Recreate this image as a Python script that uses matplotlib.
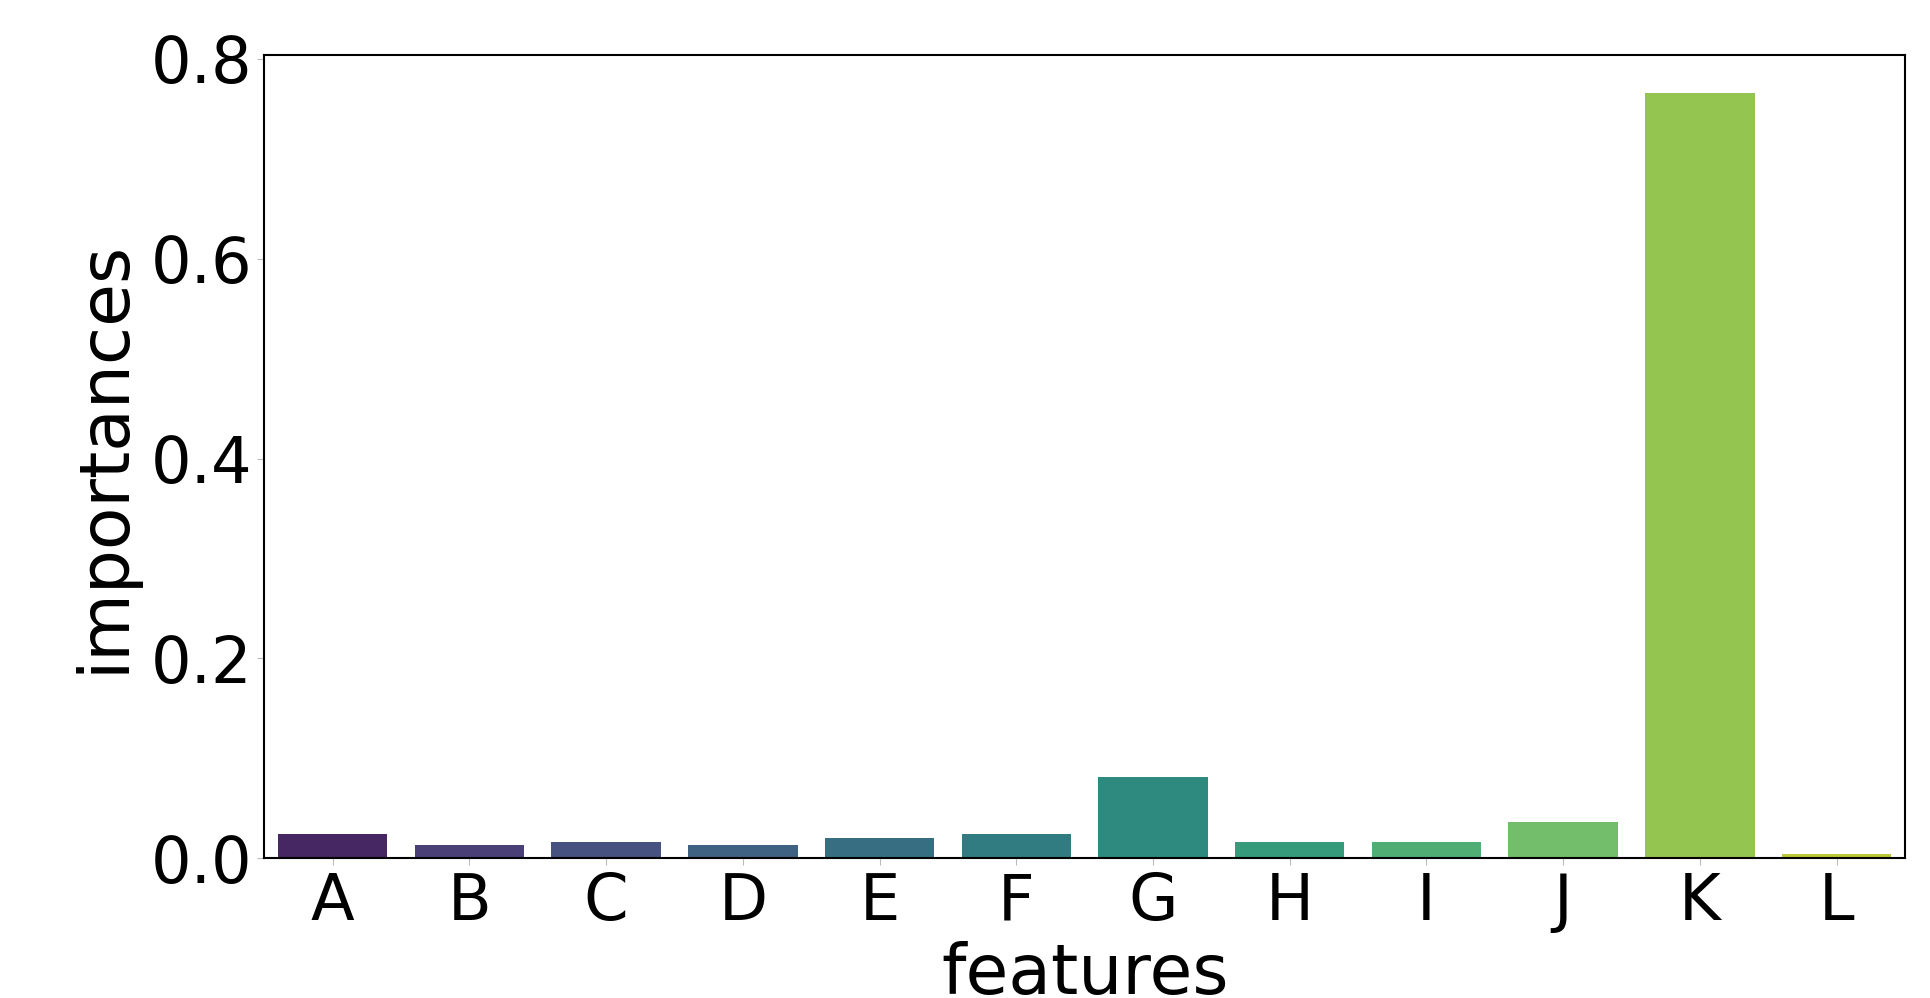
import matplotlib
matplotlib.use("Agg")
import matplotlib.pyplot as plt
import seaborn as sns

features = ["A", "B", "C", "D", "E", "F", "G", "H", "I", "J", "K", "L"]
importances = [0.0246, 0.0132, 0.016, 0.0132, 0.0207, 0.0246,
               0.0818, 0.016, 0.0164, 0.0368, 0.7655, 0.0045]

fig = plt.figure(figsize=(19.3, 9.98), dpi=100)
ax = fig.add_axes([0.137, 0.14, 0.85, 0.805])
sns.barplot(x=features, y=importances, hue=features, palette="viridis",
            legend=False, saturation=0.75, ax=ax)

ax.set_ylim(0, 0.804)
ax.set_yticks([0.0, 0.2, 0.4, 0.6, 0.8])
ax.set_yticklabels(["0.0", "0.2", "0.4", "0.6", "0.8"])
ax.tick_params(axis="both", labelsize=46, length=5, color="#bbbbbb", pad=4)
ax.set_xlabel("features", fontsize=50, labelpad=6)
ax.set_ylabel("importances", fontsize=50, labelpad=9)
for s in ax.spines.values():
    s.set_color("black")
    s.set_linewidth(1.5)

fig.savefig("out.png", dpi=100)
